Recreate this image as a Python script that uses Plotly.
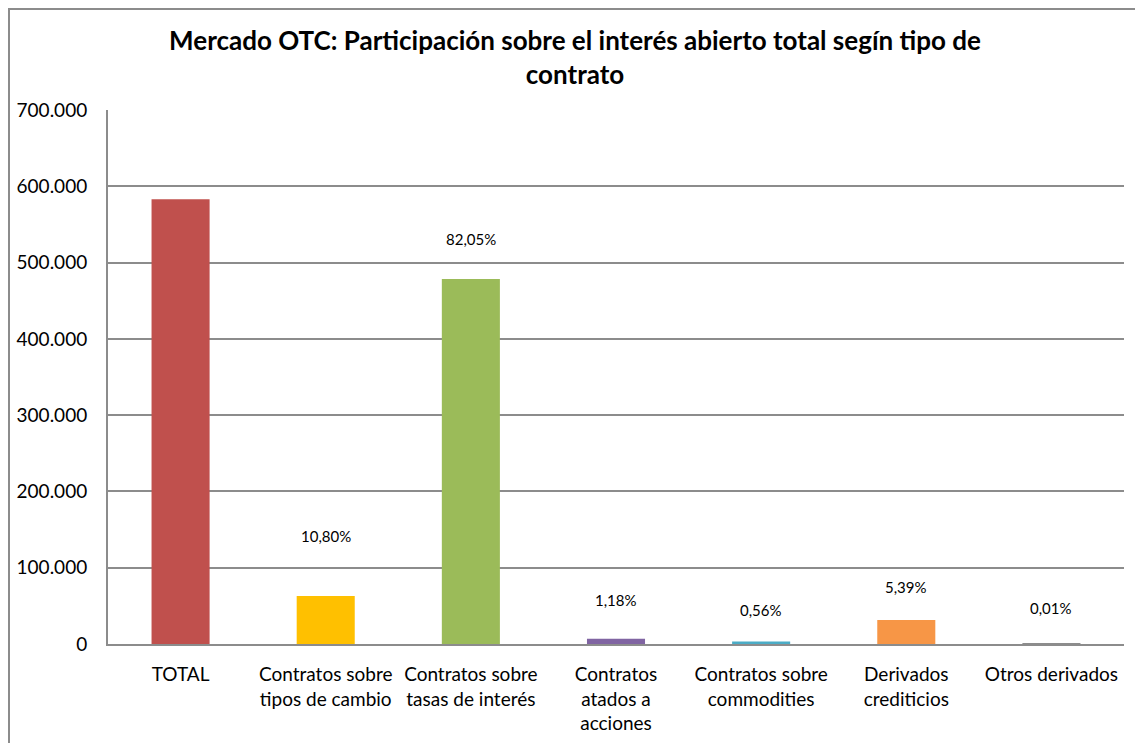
import plotly.graph_objects as go

categories = ["TOTAL", "Contratos sobre<br>tipos de cambio", "Contratos sobre<br>tasas de interés",
              "Contratos<br>atados a<br>acciones", "Contratos sobre<br>commodities",
              "Derivados<br>crediticios", "Otros derivados"]
values = [583000, 63000, 478400, 6900, 3300, 31400, 60]
pct_labels = ["", "10,80%", "82,05%", "1,18%", "0,56%", "5,39%", "0,01%"]
colors = ["#C0504D", "#FFC000", "#9BBB59", "#8064A2", "#4BACC6", "#F79646", "#8C8C8C"]
label_shift = [0, 60, 40, 39, 31, 33, 36]

FONT = "Lato, Liberation Sans, sans-serif"

# page has an 8px body margin, so the figure is 8px smaller in each direction
W, H = 1135, 735
L, R, T, B = 100, 19, 102, 99
PW, PH = W - L - R, H - T - B

def px(x):
    return (x - L) / PW

def py(y):
    return (H - B - y) / PH

fig = go.Figure(go.Bar(x=categories, y=values, marker=dict(color=colors, line=dict(width=0)),
                       width=0.4, showlegend=False))

for c, v, t, s in zip(categories, values, pct_labels, label_shift):
    if t:
        fig.add_annotation(x=c, y=v, text=t, showarrow=False, yshift=s,
                           font=dict(size=15, color="#000000", family=FONT))

fig.update_layout(
    width=W, height=H,
    margin=dict(l=L, r=R, t=T, b=B, autoexpand=False),
    paper_bgcolor="white", plot_bgcolor="white",
    separators=",.",
    font=dict(family=FONT, size=19, color="#000000"),
    title=dict(text="<b>Mercado OTC: Participación sobre el interés abierto total segín tipo de<br>contrato</b>",
               xref="container", yref="container",
               x=567 / W, xanchor="center", y=1 - 42 / H, yanchor="middle",
               font=dict(size=26, family=FONT, color="#000000")),
)
fig.update_yaxes(range=[0, 700000], dtick=100000, tickformat=",d", showgrid=True,
                 gridcolor="#8C8C8C", gridwidth=2, showline=True, linecolor="#8C8C8C", linewidth=2,
                 ticks="", ticklabelstandoff=15, zeroline=False, fixedrange=True)
fig.update_xaxes(showline=True, linecolor="#8C8C8C", linewidth=2, ticks="", tickangle=0,
                 ticklabelstandoff=12, showgrid=False)

# outer chart border
fig.add_shape(type="rect", xref="paper", yref="paper", x0=px(1), x1=px(1131), y0=py(H + 20), y1=py(1),
              line=dict(color="#8C8C8C", width=2), layer="below")

fig.write_html("out.html")
